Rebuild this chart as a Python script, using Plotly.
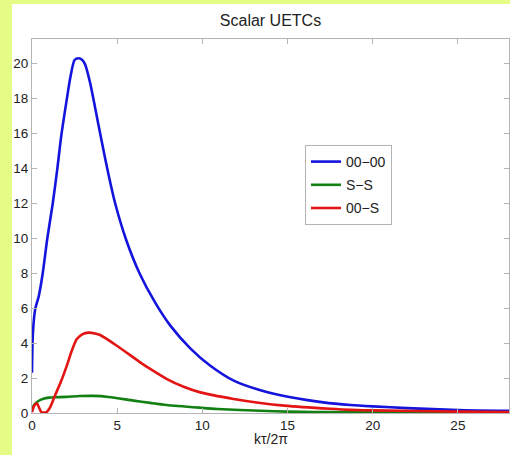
import plotly.graph_objects as go

# ---- data ----
x_0000 = [0, 0.05, 0.18, 0.4, 0.63, 0.9, 1.22, 1.49, 1.71, 2.05, 2.25, 2.5, 2.73, 2.95,
          3.12, 3.41, 3.7, 4.1, 4.5, 4.88, 5.53, 6.31, 7.24, 8.12, 9.29, 10.47, 11.84, 13.41,
          15.18, 17.1, 18.7, 20.0, 22.0, 25.0, 28.0]
y_0000 = [2.3, 4.5, 5.9, 6.7, 8.0, 10.0, 12.0, 14.0, 15.8, 18.0, 19.2, 20.2, 20.3, 20.2,
          19.94, 18.9, 17.5, 15.5, 13.6, 12.0, 9.9, 8.0, 6.3, 5.0, 3.7, 2.7, 1.85, 1.3,
          0.9, 0.61, 0.46, 0.38, 0.28, 0.17, 0.12]

x_SS = [0, 0.15, 0.4, 0.67, 1.0, 1.35, 2.0, 2.8, 3.6, 4.5, 5.96, 6.94, 7.9, 9.9, 10.9, 13.4, 15,
        18, 22, 28]
y_SS = [0.2, 0.5, 0.7, 0.82, 0.88, 0.9, 0.92, 0.97, 0.98, 0.92, 0.71, 0.58, 0.46, 0.3, 0.23, 0.13,
        0.08, 0.05, 0.03, 0.02]

x_00S = [0, 0.12, 0.28, 0.42, 0.55, 0.85, 1.05, 1.35, 1.7, 2.04, 2.35, 2.63, 2.95, 3.31, 3.7, 4.0,
         4.98, 6.35, 6.94, 7.92, 8.9, 9.88, 11.84, 13.4, 14.8, 17.5, 18.7, 20, 25, 28]
y_00S = [0.05, 0.4, 0.55, 0.3, 0.05, 0.05, 0.3, 1.0, 1.8, 2.7, 3.6, 4.23, 4.5, 4.6, 4.55, 4.46,
         3.85, 2.9, 2.52, 1.94, 1.5, 1.18, 0.8, 0.57, 0.42, 0.24, 0.18, 0.15, 0.08, 0.06]

x_ticks = [0, 5, 10, 15, 20, 25]
y_ticks = [0, 2, 4, 6, 8, 10, 12, 14, 16, 18, 20]

series = [
    ("00\u221200", x_0000, y_0000, "#1414dc"),
    ("S\u2212S", x_SS, y_SS, "#138013"),
    ("00\u2212S", x_00S, y_00S, "#e31414"),
]

FONT = "Liberation Sans, Arial, Helvetica, sans-serif"
YELLOW = "#e4fc86"

fig = go.Figure()
for i, (name, xs, ys, col) in enumerate(series):
    fig.add_trace(go.Scatter(x=xs, y=ys, mode="lines", name=name, legendgroup=f"g{i}",
                             line=dict(color=col, width=2.6, shape="spline", smoothing=0.7)))

L, R, T, B = 32, 1, 39, 42
W, H = 510, 455
pw, ph = W - L - R, H - T - B


def px_x(p):
    return (p - L) / pw


def px_y(p):
    return (H - B - p) / ph


axis_common = dict(showline=True, mirror="ticks", linecolor="#b4b4b4", linewidth=1,
                   ticks="inside", ticklen=5, tickcolor="#b4b4b4", showgrid=False,
                   zeroline=False, tickfont=dict(size=13.5, color="#222", family=FONT))

fig.update_layout(
    width=W, height=H,
    margin=dict(l=L, r=R, t=T, b=B),
    paper_bgcolor="white",
    plot_bgcolor="white",
    font=dict(family=FONT, color="#222"),
    title=dict(text="Scalar UETCs", x=(L + pw / 2) / W, xanchor="center",
               y=1 - 20 / H, yanchor="middle", yref="container",
               font=dict(size=16, color="#222", family=FONT)),
    xaxis=dict(range=[0, 28], tickvals=x_ticks, **axis_common),
    yaxis=dict(range=[0, 21.4], tickvals=y_ticks, **axis_common),
    showlegend=True,
    legend=dict(x=px_x(305), y=px_y(145), xanchor="left", yanchor="top",
                bgcolor="white", bordercolor="#b4b4b4", borderwidth=1, tracegroupgap=2,
                font=dict(size=14, color="#222", family=FONT)),
    shapes=[
        dict(type="rect", xref="paper", yref="paper", layer="below",
             x0=px_x(-5), x1=px_x(12), y0=px_y(H + 5), y1=px_y(-5),
             fillcolor=YELLOW, line=dict(width=0)),
        dict(type="rect", xref="paper", yref="paper", layer="below",
             x0=px_x(-5), x1=px_x(W + 5), y0=px_y(4), y1=px_y(-5),
             fillcolor=YELLOW, line=dict(width=0)),
    ],
    annotations=[dict(text="k\u03c4/2\u03c0", xref="paper", yref="paper", x=0.5,
                      y=px_y(439), xanchor="center", yanchor="middle",
                      showarrow=False, font=dict(size=14, color="#222", family=FONT))],
)

fig.write_html("out.html")
